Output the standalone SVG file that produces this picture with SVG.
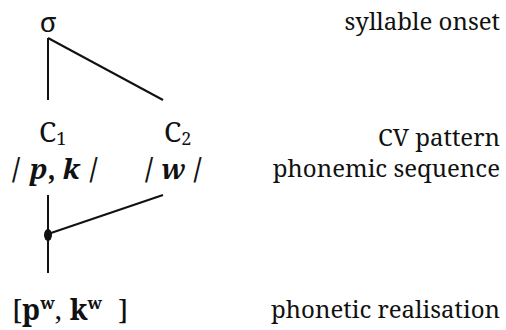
<svg xmlns="http://www.w3.org/2000/svg" width="506" height="330" viewBox="0 0 506 330">
<style>
text{font-family:"Noto Serif","DejaVu Serif",serif;font-size:24px;fill:#111}
.n{font-size:28px}
.lab{text-anchor:end}
.ln{stroke:#111;stroke-width:2;fill:none}
</style>
<rect width="506" height="330" fill="#fff"/>
<g id="connectors">
<line class="ln" x1="48" y1="38" x2="48" y2="100"/>
<line class="ln" x1="48" y1="38" x2="163" y2="100"/>
<line class="ln" x1="48" y1="195" x2="48" y2="273"/>
<line class="ln" x1="163" y1="195" x2="48" y2="234"/>
<ellipse cx="48" cy="235" rx="4" ry="6" fill="#111"/>
</g>
<g id="sigma"><text class="n" x="48" y="32" text-anchor="middle">σ</text></g>
<g id="c1"><text class="n" x="39" y="142">C<tspan font-size="18" dy="3">1</tspan></text></g>
<g id="c2"><text class="n" x="164" y="142">C<tspan font-size="18" dy="3">2</tspan></text></g>
<g id="pk"><text class="n" x="12" y="179" font-weight="bold">/<tspan font-style="italic" dx="10">p</tspan>,<tspan font-style="italic" dx="7">k</tspan><tspan dx="10">/</tspan></text></g>
<g id="w"><text class="n" x="145" y="179" font-weight="bold">/<tspan font-style="italic" dx="8">w</tspan><tspan dx="8">/</tspan></text></g>
<g id="phonetic"><text class="n" x="12" y="320">[<tspan font-weight="bold">p</tspan><tspan font-weight="bold" font-size="17" dy="-11">w</tspan><tspan dy="11">,</tspan><tspan font-weight="bold" dx="8">k</tspan><tspan font-weight="bold" font-size="17" dy="-11">w</tspan><tspan dy="11" dx="16">]</tspan></text></g>
<g id="labels">
<text class="lab" x="500" y="30">syllable onset</text>
<text class="lab" x="500" y="146">CV pattern</text>
<text class="lab" x="500" y="177">phonemic sequence</text>
<text class="lab" x="500" y="318">phonetic realisation</text>
</g>
</svg>
